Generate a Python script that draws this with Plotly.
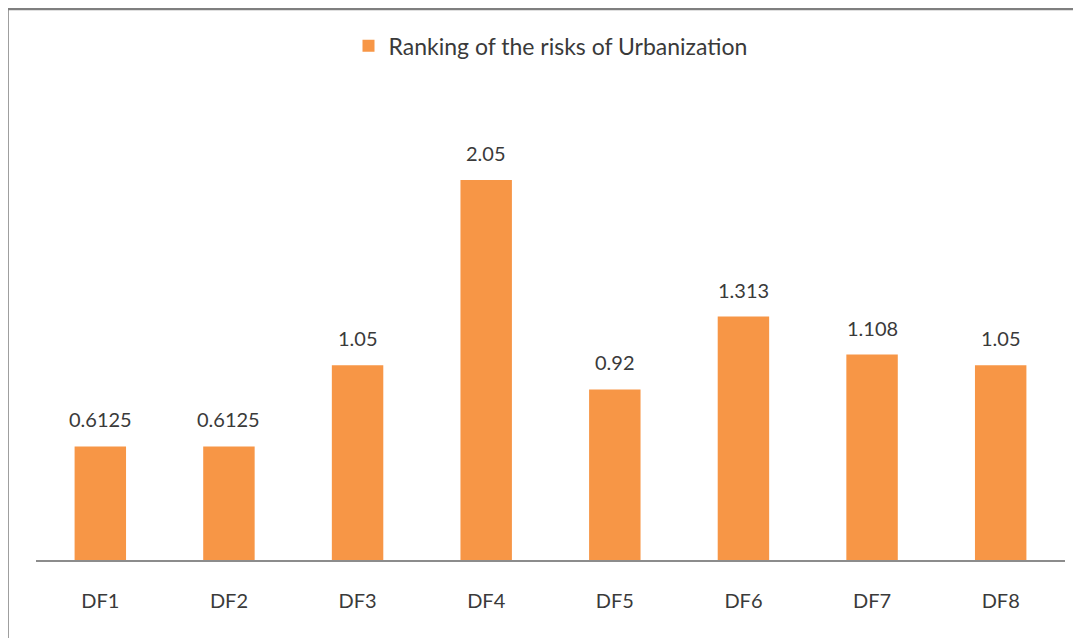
import plotly.graph_objects as go

categories = ["DF1", "DF2", "DF3", "DF4", "DF5", "DF6", "DF7", "DF8"]
values = [0.6125, 0.6125, 1.05, 2.05, 0.92, 1.313, 1.108, 1.05]
labels = ["0.6125", "0.6125", "1.05", "2.05", "0.92", "1.313", "1.108", "1.05"]
series_name = "Ranking of the risks of Urbanization"

FONT = "Lato"
TXT = "#3a3a3a"

fig = go.Figure()
fig.add_trace(go.Bar(
    x=categories, y=values, name=series_name,
    marker=dict(color="#F79646", line=dict(width=0)),
    showlegend=True,
))

for c, v, t in zip(categories, values, labels):
    fig.add_annotation(x=c, y=v, text=t, showarrow=False, yanchor="bottom",
                       yshift=13, font=dict(family=FONT, size=20, color=TXT))

fig.add_shape(type="rect", xref="paper", yref="paper",
              x0=-0.0277, x1=1.06, y0=-0.25, y1=1.148,
              line=dict(color="#7f7f7f", width=2.5), fillcolor="rgba(0,0,0,0)", layer="below")

fig.update_layout(
    width=1073, height=630,
    margin=dict(l=28, r=16, t=72, b=78),
    paper_bgcolor="white", plot_bgcolor="white",
    bargap=0.6,
    font=dict(family=FONT, color=TXT),
    showlegend=True,
    legend=dict(orientation="h", x=0.5, xanchor="center", y=1.071, yanchor="middle",
                font=dict(family=FONT, size=23, color=TXT), itemwidth=30,
                bgcolor="rgba(0,0,0,0)"),
    xaxis=dict(showline=True, linecolor="#8c8c8c", linewidth=1.5, showgrid=False,
               ticks="outside", ticklen=22, tickcolor="rgba(0,0,0,0)",
               tickfont=dict(family=FONT, size=20, color=TXT), zeroline=False),
    yaxis=dict(range=[0, 2.589], visible=False, showgrid=False, zeroline=False),
)

fig.write_html("out.html")
